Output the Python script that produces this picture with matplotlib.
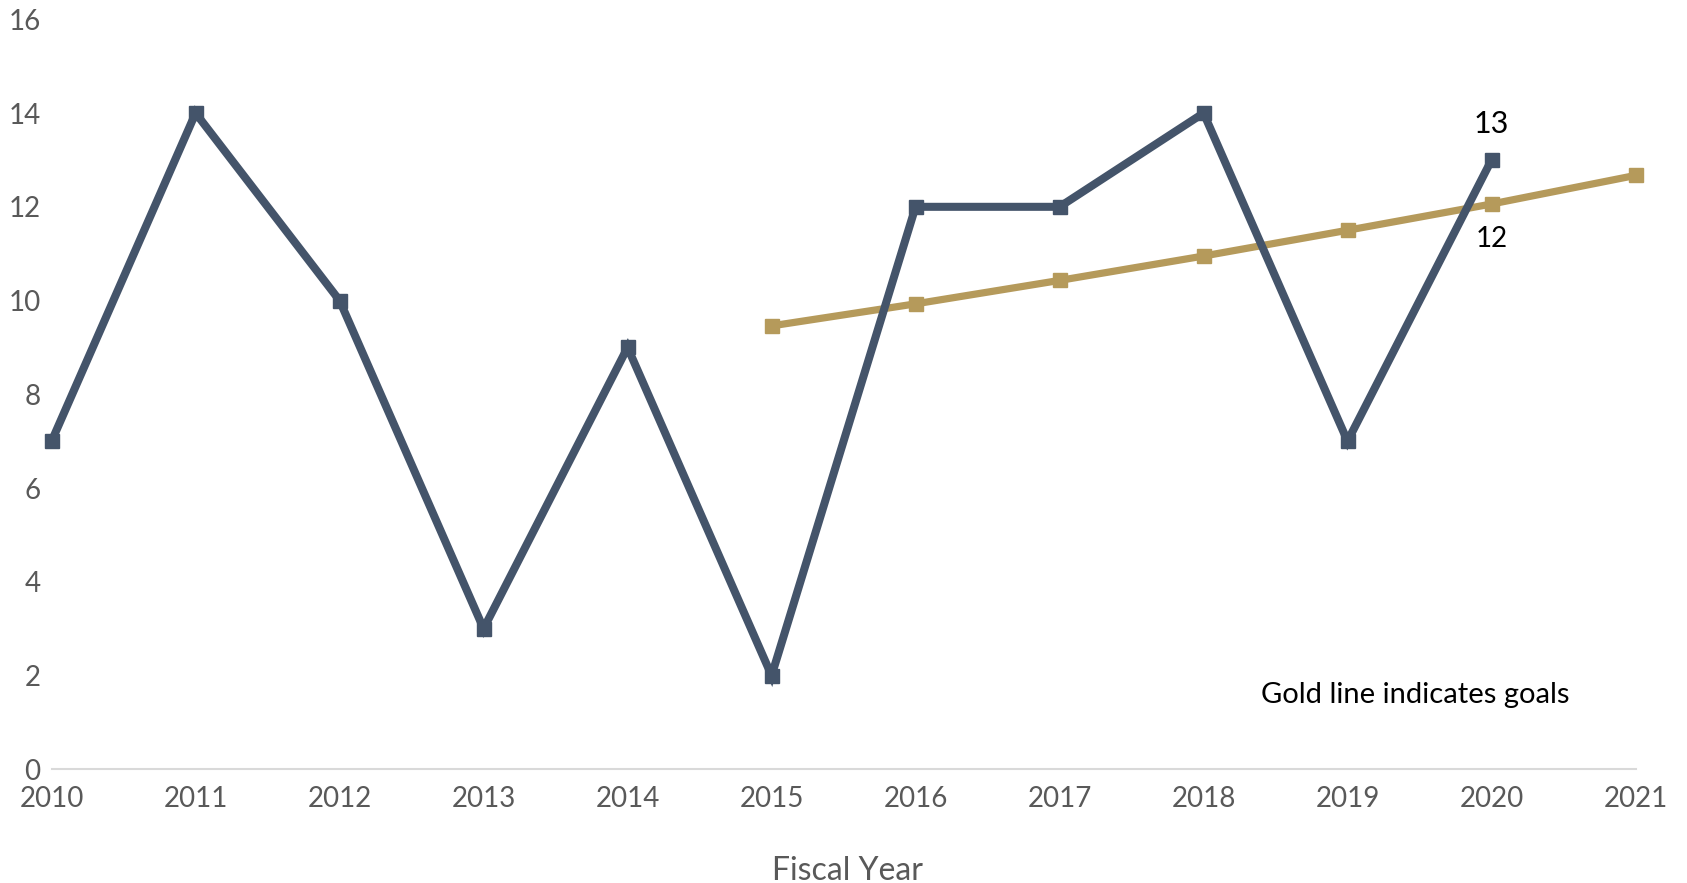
import matplotlib.pyplot as plt

plt.rcParams['font.family'] = ['Lato', 'DejaVu Sans']

years = [2010, 2011, 2012, 2013, 2014, 2015, 2016, 2017, 2018, 2019, 2020]
actual = [7, 14, 10, 3, 9, 2, 12, 12, 14, 7, 13]

goal_years = [2015, 2016, 2017, 2018, 2019, 2020, 2021]
goals = [9.46, 9.93, 10.43, 10.95, 11.5, 12.06, 12.67]

blue = '#44546A'
gold = '#B59A5B'
grey = '#595959'

fig = plt.figure(figsize=(16.87, 8.83), dpi=100)
ax = fig.add_axes([0.0306, 0.1288, 0.9389, 0.8493])

ax.plot(years, actual, color=blue, lw=5.8, marker='s', ms=9.5,
        solid_joinstyle='miter', clip_on=False, zorder=3)
ax.plot(goal_years, goals, color=gold, lw=5.2, marker='s', ms=10.5,
        clip_on=False, zorder=2)

# data labels at 2020
ax.annotate(str(actual[-1]), (years[-1], actual[-1]), xytext=(0, 16),
            textcoords='offset points', ha='center', va='bottom',
            fontsize=22, color='black')
ax.annotate(str(round(goals[-2])), (goal_years[-2], goals[-2]), xytext=(0, -16),
            textcoords='offset points', ha='center', va='top',
            fontsize=20, color='black')

ax.text(2019.47, 1.58, 'Gold line indicates goals', ha='center', va='center',
        fontsize=21, color='black')

ax.set_xlim(2010, 2021)
ax.set_ylim(0, 16)
ax.set_xticks(range(2010, 2022))
ax.set_yticks(range(0, 17, 2))
ax.tick_params(length=0, labelsize=20, colors=grey)
ax.tick_params(axis='y', pad=8)
ax.tick_params(axis='x', pad=12)

for s in ['top', 'right', 'left']:
    ax.spines[s].set_visible(False)
ax.spines['bottom'].set_color('#D9D9D9')
ax.spines['bottom'].set_linewidth(1.5)

fig.text(848 / 1687, 1 - 871 / 883, 'Fiscal Year', ha='center', va='center',
         fontsize=23, color=grey)

fig.savefig('out.png', dpi=100)
